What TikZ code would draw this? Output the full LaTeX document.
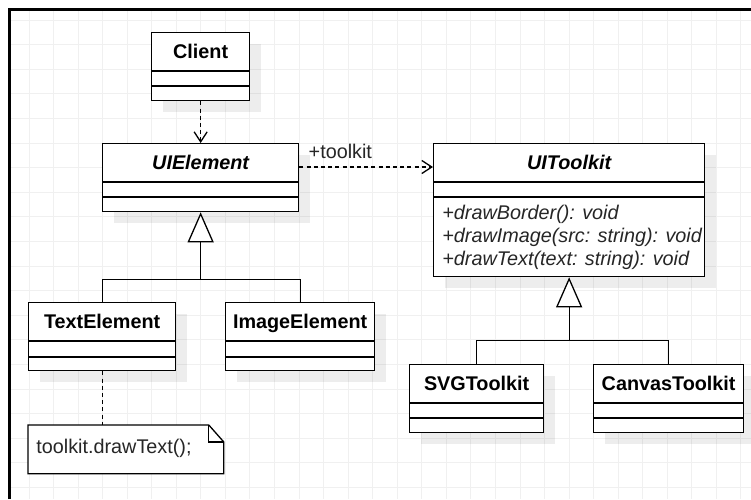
\documentclass[tikz,border=0pt]{standalone}
\usepackage{fontspec}
\setmainfont{Liberation Sans}
\usetikzlibrary{arrows.meta,calc,shadows}
\newcommand\umlfont{\fontsize{9.9}{11.5}\selectfont}
\tikzset{
  cls/.style={draw, line width=0.65pt, fill=white, rectangle, inner sep=0pt, anchor=north west,
    drop shadow={shadow xshift=5.5pt, shadow yshift=-5.5pt, fill=black, opacity=0.07}},
  divline/.style={line width=0.65pt},
  clstitle/.style={font=\umlfont\bfseries, inner sep=0pt},
  txt/.style={font=\umlfont, inner sep=0pt, text=black!85},
  gridline/.style={line width=0.5pt, draw=black!6},
  conn/.style={line width=0.65pt},
  dep/.style={conn, dash pattern=on 2pt off 1.6pt, -{Straight Barb[length=5pt,width=6.5pt]}},
  inh/.style={conn, -{Triangle[open, length=15pt, width=13pt, fill=white]}},
}
\newcommand\umlcls[6]{%
  \node[cls, minimum width=#3*0.5pt, minimum height=#4*0.5pt] (#1) at #2 {};
  \node[clstitle, anchor=base] (#1-t) at ($(#1.north)+(0,26.5)$) {#5};
  \draw[divline] ($(#1.north west)+(0,39)$) -- ($(#1.north east)+(0,39)$);
  \draw[divline] ($(#1.north west)+(0,#6)$) -- ($(#1.north east)+(0,#6)$);
}
\begin{document}
\begin{tikzpicture}[x=0.5pt,y=-0.5pt]
\useasboundingbox (0,0) rectangle (751,499);
\fill[white] (0,0) rectangle (751,499);
% grid
\foreach \i in {0,...,29} \draw[gridline] ({29+24.55*\i},10) -- ({29+24.55*\i},499);
\foreach \i in {0,...,19} \draw[gridline] (10,{20+24.6*\i}) -- (751,{20+24.6*\i});
% frame
\draw[line width=1.4pt] (9.5,499) -- (9.5,9.5) -- (751,9.5);

% classes
\umlcls{client}{(151,32)}{98}{68}{Client}{54}
\umlcls{uie}{(102,143)}{196}{68}{\itshape UIElement}{54}
\umlcls{uitk}{(433,143)}{271}{133}{\itshape UIToolkit}{54}
\umlcls{te}{(28,302)}{147}{68}{TextElement}{55}
\umlcls{ie}{(225,302)}{149}{68}{ImageElement}{55}
\umlcls{svg}{(409,364)}{134}{68}{SVGToolkit}{54}
\umlcls{canvas}{(593,364)}{150}{68}{CanvasToolkit}{54}

% methods
\node[txt, anchor=base west] (m1) at ($(uitk.north west)+(9,76)$) {\itshape +drawBorder(): void};
\node[txt, anchor=base west] (m2) at ($(uitk.north west)+(9,99)$) {\itshape +drawImage(src: string): void};
\node[txt, anchor=base west] (m3) at ($(uitk.north west)+(9,122)$) {\itshape +drawText(text: string): void};

% note
\node[rectangle, inner sep=0pt, minimum width=97.5pt, minimum height=24pt, anchor=north west] (note) at (28,425) {};
\draw[line width=0.65pt, fill=white] (note.north west) -- ($(note.north east)+(-15,0)$) -- ($(note.north east)+(0,17)$) -- (note.south east) -- (note.south west) -- cycle;
\draw[line width=0.65pt] ($(note.north east)+(-15,0)$) -- ($(note.north east)+(-15,17)$) -- ($(note.north east)+(0,17)$);
\node[txt, anchor=base west] (notetext) at ($(note.north west)+(8,28)$) {toolkit.drawText();};

% connectors
\draw[dep] (client.south) -- (uie.north);
\coordinate (a1) at ($(uie.north east)+(0,24)$);
\draw[dep] (a1) -- (uitk.west |- a1);
\node[txt, anchor=base west] (lbl) at ($(a1)+(9,-9)$) {+toolkit};

\coordinate (j1) at ($(uie.south)+(0,67)$);
\draw[inh] (te.north) |- (j1) -- (uie.south);
\draw[conn] (ie.north) |- (j1);

\coordinate (j2) at ($(uitk.south)+(0,63)$);
\draw[inh] (svg.north) |- (j2) -- (uitk.south);
\draw[conn] (canvas.north) |- (j2);

\draw[conn, dash pattern=on 2pt off 1.6pt] (te.south) -- (te.south |- note.north);
\end{tikzpicture}
\end{document}
